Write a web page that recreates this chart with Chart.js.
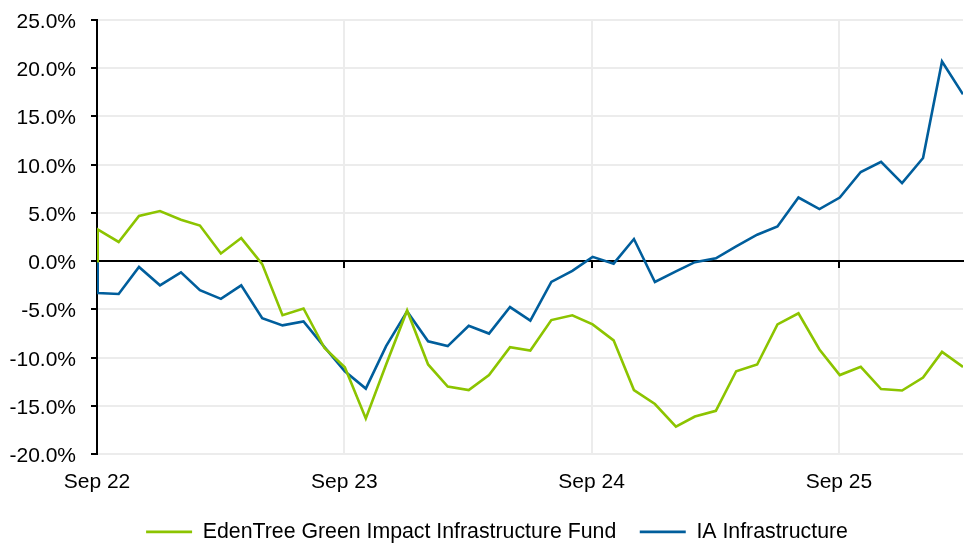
<!DOCTYPE html>
<html>
<head>
<meta charset="utf-8">
<script src="https://cdn.jsdelivr.net/npm/chart.js@4.4.1/dist/chart.umd.min.js"></script>
<style>
  html, body { margin: 0; padding: 0; background: #ffffff; }
  canvas { display: block; }
</style>
</head>
<body>
<canvas id="c" width="969" height="543"></canvas>
<script>
// ---- Data ----
const dates = [
  '2022-09-29',
  '2022-09-30','2022-10-31','2022-11-30','2022-12-31',
  '2023-01-31','2023-02-28','2023-03-31','2023-04-30','2023-05-31','2023-06-30',
  '2023-07-31','2023-08-31','2023-09-30','2023-10-31','2023-11-30','2023-12-31',
  '2024-01-31','2024-02-29','2024-03-31','2024-04-30','2024-05-31','2024-06-30',
  '2024-07-31','2024-08-31','2024-09-30','2024-10-31','2024-11-30','2024-12-31',
  '2025-01-31','2025-02-28','2025-03-31','2025-04-30','2025-05-31','2025-06-30',
  '2025-07-31','2025-08-31','2025-09-30','2025-10-31','2025-11-30','2025-12-31',
  '2026-01-31','2026-02-28','2026-03-31'
];
const fundName = 'EdenTree Green Impact Infrastructure Fund';
const sectorName = 'IA Infrastructure';
const fundValues = [
  0,
  3.3, 2.0, 4.7, 5.2, 4.3, 3.7, 0.8, 2.4, -0.3, -5.6, -4.9, -9.0,
  -11.0, -16.3, -10.7, -5.1, -10.7, -13.0, -13.35, -11.8, -8.9, -9.25, -6.1, -5.6,
  -6.55, -8.2, -13.35, -14.8, -17.15, -16.1, -15.5, -11.4, -10.7, -6.55, -5.4, -9.15,
  -11.8, -10.95, -13.25, -13.4, -12.05, -9.4, -10.95
];
const sectorValues = [
  0,
  -3.3, -3.4, -0.6, -2.5, -1.15, -3.0, -3.9, -2.5, -5.9, -6.65, -6.25, -8.9,
  -11.4, -13.2, -8.8, -5.2, -8.3, -8.8, -6.7, -7.5, -4.75, -6.15, -2.15, -1.0,
  0.45, -0.25, 2.3, -2.15, -1.05, -0.1, 0.3, 1.55, 2.75, 3.6, 6.6, 5.4,
  6.6, 9.25, 10.3, 8.1, 10.7, 20.7, 17.3
];
const xTickLabels = ['Sep 22', 'Sep 23', 'Sep 24', 'Sep 25'];

// ---- Build x positions (months since first date) ----
const DAY = 86400000;
const MONTH_DAYS = 365.25 / 12;
const t0 = Date.parse(dates[0] + 'T00:00:00Z');
const xs = dates.map(d => (Date.parse(d + 'T00:00:00Z') - t0) / DAY / MONTH_DAYS);
const fundPts = xs.map((x, i) => ({ x, y: fundValues[i] }));
const sectorPts = xs.map((x, i) => ({ x, y: sectorValues[i] }));

const FONT = { family: '"Liberation Sans", Arial, sans-serif', size: 21 };
const LEGEND_FONT = { family: '"Liberation Sans", Arial, sans-serif', size: 21.3 };
const GREEN = '#8CC400';
const BLUE = '#005E9C';
const GRID = '#ececec';

// shifts the centred legend a little to the right, as in the reference
const legendShift = {
  id: 'legendShift',
  afterLayout(chart) {
    if (chart.legend) { chart.legend.left += 25; }
  }
};

new Chart(document.getElementById('c'), {
  type: 'line',
  data: {
    datasets: [
      { label: fundName, data: fundPts, borderColor: GREEN, backgroundColor: GREEN,
        borderWidth: 2.6, pointRadius: 0, tension: 0, fill: false },
      { label: sectorName, data: sectorPts, borderColor: BLUE, backgroundColor: BLUE,
        borderWidth: 2.6, pointRadius: 0, tension: 0, fill: false }
    ]
  },
  plugins: [legendShift],
  options: {
    responsive: false,
    animation: false,
    devicePixelRatio: 1,
    layout: { padding: { left: 6, right: 6, top: 20, bottom: -9.5 } },
    plugins: {
      tooltip: { enabled: false },
      legend: {
        position: 'bottom',
        labels: {
          font: LEGEND_FONT, color: '#000',
          boxWidth: 46, boxHeight: 0, padding: 23.5
        }
      }
    },
    scales: {
      x: {
        type: 'linear',
        min: 0,
        max: xs[xs.length - 1],
        afterFit: s => { s.height = 43.5; },
        border: { display: false },
        grid: { color: GRID, lineWidth: 2, drawTicks: false },
        ticks: {
          stepSize: 12, includeBounds: false, padding: 15.4,
          font: FONT, color: '#000', maxRotation: 0,
          callback: v => xTickLabels[Math.round(v / 12)] ?? ''
        }
      },
      xzero: {
        type: 'linear',
        axis: 'x',
        position: { y: 0 },
        min: 0,
        max: xs[xs.length - 1],
        border: { display: true, color: '#000', width: 2 },
        grid: { drawOnChartArea: false, drawTicks: true, tickLength: 6, tickColor: '#000', lineWidth: 2 },
        ticks: { stepSize: 12, includeBounds: false, display: false }
      },
      y: {
        min: -20,
        max: 25,
        afterFit: s => { s.width = 91; },
        border: { display: true, color: '#000', width: 2 },
        grid: { color: GRID, lineWidth: 2, tickLength: 6, tickColor: '#000' },
        ticks: {
          stepSize: 5, padding: 15, labelOffset: 2,
          font: Object.assign({}, FONT, { lineHeight: 0.4 }), color: '#000',
          callback: v => v.toFixed(1) + '%'
        }
      }
    }
  }
});
</script>
</body>
</html>
